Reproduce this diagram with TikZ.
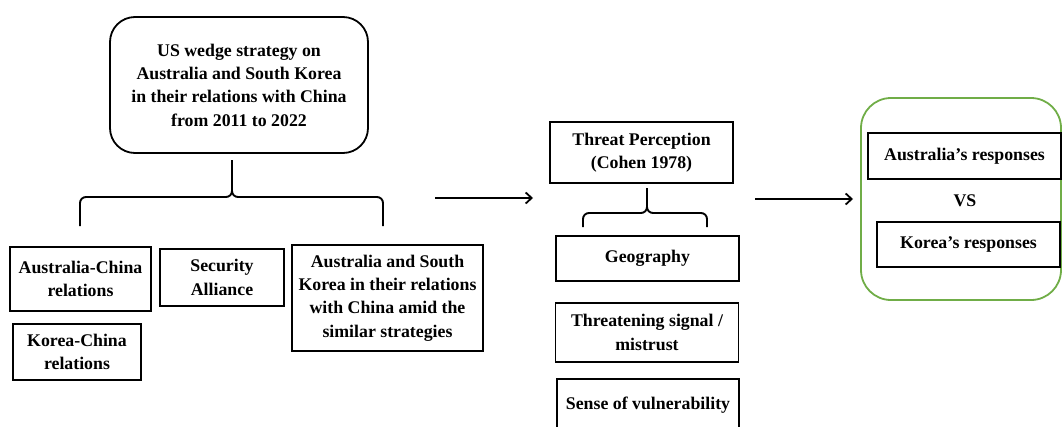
\documentclass[tikz,border=0pt]{standalone}
\usepackage{fontspec}
\setmainfont{Liberation Serif}
\usetikzlibrary{arrows.meta}
\definecolor{framegreen}{RGB}{112,173,71}
\tikzset{
  txt/.style={font=\bfseries\fontsize{17.8}{23.3}\selectfont, align=center, inner sep=0pt},
  box/.style={txt, draw=black, line width=1.8pt, minimum width=#1},
  bracket/.style={draw=black, line width=1.9pt, rounded corners=6pt},
  flow/.style={draw=black, line width=1.8pt, -{Straight Barb[length=6pt,width=11pt,line width=1.8pt]}},
}
\begin{document}
\begin{tikzpicture}[x=1pt, y=-1pt]
\useasboundingbox (0,0) rectangle (1062,426);
\clip (0,0) rectangle (1062,426);

% source of the wedge strategy
\node[box=258pt, minimum height=136pt, rounded corners=25pt] (main) at (239,85)
  {US wedge strategy on\\Australia and South Korea\\in their relations with China\\from 2011 to 2022};

% first bracket and its three branches
\coordinate (b1top) at (232,160);
\coordinate (b1l) at (80,226);
\coordinate (b1r) at (383,226);
\draw[bracket] (b1l) |- (232,197) -- (b1top);
\draw[bracket] (b1r) |- (232,197) -- (b1top);

\node[box=141pt, minimum height=64pt] (ac) at (80.5,279) {Australia-China\\relations};
\node[box=128pt, minimum height=56pt] (kc) at (77,352) {Korea-China\\relations};
\node[box=124pt, minimum height=57pt] (sa) at (222,277.5) {Security\\Alliance};
\node[box=191pt, minimum height=106pt] (aks) at (387.5,298)
  {Australia and South\\Korea in their relations\\with China amid the\\similar strategies};

% first arrow
\coordinate (a1s) at (435,198);
\coordinate (a1e) at (533,198);
\draw[flow] (a1s) -- (a1e);

% threat perception and its factors
\node[box=183pt, minimum height=61pt] (tp) at (641.5,152.5) {Threat Perception\\(Cohen 1978)};
\coordinate (b2top) at (647,188);
\coordinate (b2l) at (583,227);
\coordinate (b2r) at (707,227);
\draw[bracket] (b2l) |- (647,213) -- (b2top);
\draw[bracket] (b2r) |- (647,213) -- (b2top);

\node[box=183pt, minimum height=45pt] (geo) at (647.5,258.5) {Geography};
\node[box=183pt, minimum height=59pt] (ts) at (647,332.5) {Threatening signal /\\mistrust};
\node[box=182pt, minimum height=53pt] (sv) at (648,405.5) {Sense of vulnerability};

% second arrow
\coordinate (a2s) at (755,199);
\coordinate (a2e) at (853,199);
\draw[flow] (a2s) -- (a2e);

% comparison of responses
\node[draw=framegreen, line width=1.8pt, rounded corners=30pt, minimum width=200pt, minimum height=202pt] (resp) at (961,199) {};
\node[box=193pt, minimum height=46pt, fill=white] (aur) at (964.5,156) {Australia’s responses};
\node[txt] (vs) at (965,201) {VS};
\node[box=183pt, minimum height=45pt] (kor) at (968.5,244.5) {Korea’s responses};
\end{tikzpicture}
\end{document}
